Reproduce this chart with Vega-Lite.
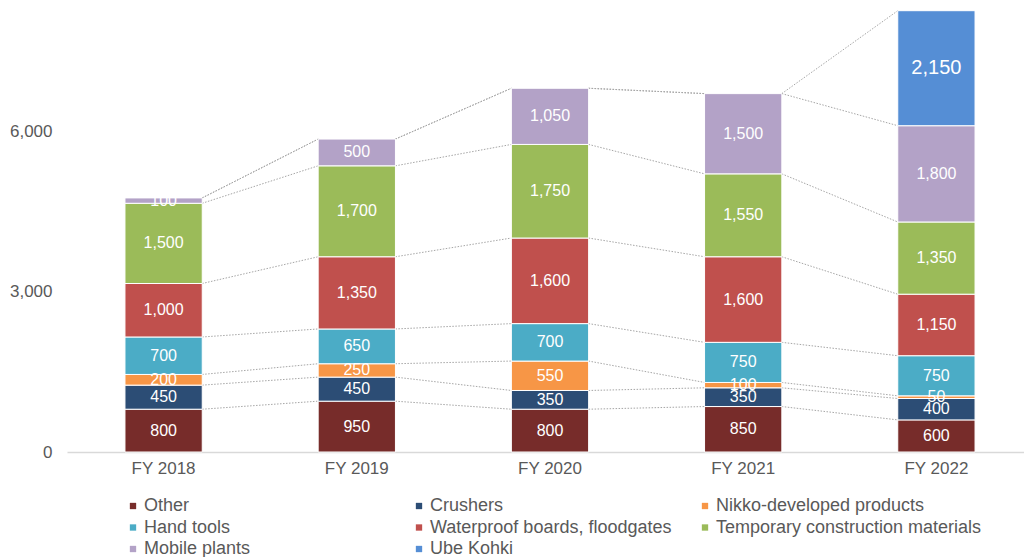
{
  "$schema": "https://vega.github.io/schema/vega-lite/v6.json",
  "width": 966,
  "height": 452,
  "autosize": "none",
  "padding": {"left": 67, "top": 0, "right": 0, "bottom": 105},
  "background": "white",
  "config": {"view": {"stroke": null}, "font": "Liberation Sans"},
  "data": {
    "values": [
      {"year": "FY 2018", "series": "Other", "value": 800},
      {"year": "FY 2018", "series": "Crushers", "value": 450},
      {"year": "FY 2018", "series": "Nikko-developed products", "value": 200},
      {"year": "FY 2018", "series": "Hand tools", "value": 700},
      {"year": "FY 2018", "series": "Waterproof boards, floodgates", "value": 1000},
      {"year": "FY 2018", "series": "Temporary construction materials", "value": 1500},
      {"year": "FY 2018", "series": "Mobile plants", "value": 100},
      {"year": "FY 2018", "series": "Ube Kohki", "value": 0},
      {"year": "FY 2019", "series": "Other", "value": 950},
      {"year": "FY 2019", "series": "Crushers", "value": 450},
      {"year": "FY 2019", "series": "Nikko-developed products", "value": 250},
      {"year": "FY 2019", "series": "Hand tools", "value": 650},
      {"year": "FY 2019", "series": "Waterproof boards, floodgates", "value": 1350},
      {"year": "FY 2019", "series": "Temporary construction materials", "value": 1700},
      {"year": "FY 2019", "series": "Mobile plants", "value": 500},
      {"year": "FY 2019", "series": "Ube Kohki", "value": 0},
      {"year": "FY 2020", "series": "Other", "value": 800},
      {"year": "FY 2020", "series": "Crushers", "value": 350},
      {"year": "FY 2020", "series": "Nikko-developed products", "value": 550},
      {"year": "FY 2020", "series": "Hand tools", "value": 700},
      {"year": "FY 2020", "series": "Waterproof boards, floodgates", "value": 1600},
      {"year": "FY 2020", "series": "Temporary construction materials", "value": 1750},
      {"year": "FY 2020", "series": "Mobile plants", "value": 1050},
      {"year": "FY 2020", "series": "Ube Kohki", "value": 0},
      {"year": "FY 2021", "series": "Other", "value": 850},
      {"year": "FY 2021", "series": "Crushers", "value": 350},
      {"year": "FY 2021", "series": "Nikko-developed products", "value": 100},
      {"year": "FY 2021", "series": "Hand tools", "value": 750},
      {"year": "FY 2021", "series": "Waterproof boards, floodgates", "value": 1600},
      {"year": "FY 2021", "series": "Temporary construction materials", "value": 1550},
      {"year": "FY 2021", "series": "Mobile plants", "value": 1500},
      {"year": "FY 2021", "series": "Ube Kohki", "value": 0},
      {"year": "FY 2022", "series": "Other", "value": 600},
      {"year": "FY 2022", "series": "Crushers", "value": 400},
      {"year": "FY 2022", "series": "Nikko-developed products", "value": 50},
      {"year": "FY 2022", "series": "Hand tools", "value": 750},
      {"year": "FY 2022", "series": "Waterproof boards, floodgates", "value": 1150},
      {"year": "FY 2022", "series": "Temporary construction materials", "value": 1350},
      {"year": "FY 2022", "series": "Mobile plants", "value": 1800},
      {"year": "FY 2022", "series": "Ube Kohki", "value": 2150}
    ]
  },
  "transform": [
    {"calculate": "indexof(['Other','Crushers','Nikko-developed products','Hand tools','Waterproof boards, floodgates','Temporary construction materials','Mobile plants','Ube Kohki'], datum.series)", "as": "ord"},
    {"stack": "value", "groupby": ["year"], "sort": [{"field": "ord", "order": "ascending"}], "as": ["lo", "hi"]},
    {"calculate": "(datum.lo + datum.hi) / 2", "as": "mid"}
  ],
  "encoding": {
    "x": {
      "field": "year",
      "type": "nominal",
      "scale": {"paddingInner": 0.6, "paddingOuter": 0.3},
      "axis": {
        "title": null,
        "labelAngle": 0,
        "ticks": false,
        "domainColor": "#d9d9d9",
        "domainWidth": 1.5,
        "labelFontSize": 17,
        "labelColor": "#595959",
        "labelPadding": 8
      }
    }
  },
  "layer": [
    {
      "transform": [
        {"window": [{"op": "lead", "field": "hi", "as": "nextHi"}, {"op": "lead", "field": "year", "as": "nextYear"}], "groupby": ["series"], "sort": [{"field": "year", "order": "ascending"}]},
        {"filter": "datum.nextYear != null"}
      ],
      "mark": {"type": "rule", "stroke": "#a6a6a6", "strokeDash": [1.5, 1.5], "strokeWidth": 1, "xOffset": 38.6, "x2Offset": -38.6},
      "encoding": {
        "x2": {"field": "nextYear"},
        "y": {"field": "hi", "type": "quantitative", "title": null},
        "y2": {"field": "nextHi"}
      }
    },
    {
      "transform": [{"filter": "datum.value > 0"}],
      "mark": {"type": "bar", "stroke": "white", "strokeWidth": 1},
      "encoding": {
        "y": {
          "field": "lo",
          "type": "quantitative",
          "title": null,
          "scale": {"domain": [0, 8450], "nice": false},
          "axis": {
            "values": [0, 3000, 6000],
            "labelExpr": "format(datum.value, ',')",
            "grid": false,
            "domain": false,
            "ticks": false,
            "labelFontSize": 17,
            "labelColor": "#595959",
            "labelPadding": 15,
            "title": null
          }
        },
        "y2": {"field": "hi"},
        "color": {
          "field": "series",
          "type": "nominal",
          "sort": ["Other", "Crushers", "Nikko-developed products", "Hand tools", "Waterproof boards, floodgates", "Temporary construction materials", "Mobile plants", "Ube Kohki"],
          "scale": {
            "domain": ["Other", "Crushers", "Nikko-developed products", "Hand tools", "Waterproof boards, floodgates", "Temporary construction materials", "Mobile plants", "Ube Kohki"],
            "range": ["#772C2A", "#2C4D75", "#F79646", "#4BACC6", "#C0504D", "#9BBB59", "#B3A2C7", "#558ED5"]
          },
          "legend": {
            "title": null,
            "orient": "none",
            "direction": "horizontal",
            "legendX": 57,
            "legendY": 497,
            "columns": 3,
            "symbolType": "square",
            "symbolSize": 40,
            "symbolStrokeWidth": 0,
            "labelFontSize": 18,
            "labelColor": "#595959",
            "labelOffset": 2,
            "labelLimit": 400,
            "gridAlign": "all",
            "columnPadding": 0,
            "rowPadding": 3.5
          }
        }
      }
    },
    {
      "transform": [{"filter": "datum.value > 0"}],
      "mark": {"type": "text", "color": "white", "baseline": "middle", "align": "center"},
      "encoding": {
        "y": {"field": "mid", "type": "quantitative", "title": null},
        "text": {"field": "value", "type": "quantitative", "format": ","},
        "size": {"condition": {"test": "datum.series === 'Ube Kohki'", "value": 20}, "value": 16}
      }
    }
  ]
}
